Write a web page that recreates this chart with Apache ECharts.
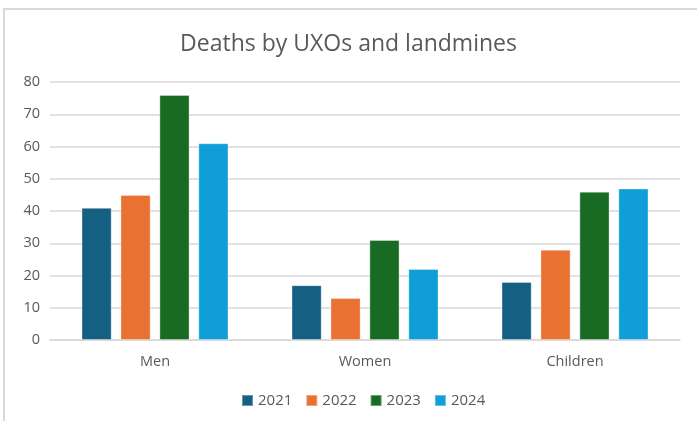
<!DOCTYPE html>
<html><head><meta charset="utf-8">
<script src="https://cdn.jsdelivr.net/npm/echarts@6/dist/echarts.min.js"></script>
<style>html,body{margin:0;padding:0;background:#fff}#c{width:697px;height:421px}</style>
</head><body><div id="c"></div>
<script>
const categories = ['Men', 'Women', 'Children'];
const seriesNames = ['2021', '2022', '2023', '2024'];
const v2021 = [41, 17, 18];
const v2022 = [45, 13, 28];
const v2023 = [76, 31, 46];
const v2024 = [61, 22, 47];
const yTicks = [0, 10, 20, 30, 40, 50, 60, 70, 80];
const colors = ['#156082', '#E97132', '#196B24', '#0F9ED5'];
const values = [v2021, v2022, v2023, v2024];
const font = '"Open Sans", "Noto Sans", sans-serif';
const chart = echarts.init(document.getElementById('c'));
chart.setOption({
  animation: false,
  color: colors,
  graphic: [{
    type: 'rect', shape: {x: 4, y: 9, width: 900, height: 900},
    style: {fill: 'none', stroke: '#d9d9d9', lineWidth: 2}, silent: true
  }],
  title: {
    text: 'Deaths by UXOs and landmines', left: 'center', top: 28,
    textStyle: {fontFamily: font, fontSize: 23, fontWeight: 'normal', color: '#595959'}
  },
  legend: {
    bottom: 8, left: 236, itemWidth: 11, itemHeight: 11, itemGap: 13,
    icon: 'rect',
    textStyle: {fontFamily: font, fontSize: 15, color: '#595959'},
    data: seriesNames
  },
  grid: {left: 50, right: 17, top: 82, bottom: 81},
  xAxis: {
    type: 'category', data: categories,
    axisLine: {lineStyle: {color: '#d9d9d9', width: 1.5}},
    axisTick: {show: false},
    axisLabel: {fontFamily: font, fontSize: 14.5, color: '#595959', margin: 14}
  },
  yAxis: {
    type: 'value', min: yTicks[0], max: yTicks[yTicks.length - 1], interval: 10,
    axisLine: {show: false}, axisTick: {show: false},
    splitLine: {lineStyle: {color: '#d9d9d9', width: 1.5}},
    axisLabel: {fontFamily: font, fontSize: 14.5, color: '#595959', margin: 10}
  },
  series: seriesNames.map((n, i) => ({
    name: n, type: 'bar', data: values[i],
    barGap: '29%', barCategoryGap: '30%',
    itemStyle: {borderColor: 'rgba(255,255,255,0.35)', borderWidth: 1}
  }))
});
</script></body></html>
